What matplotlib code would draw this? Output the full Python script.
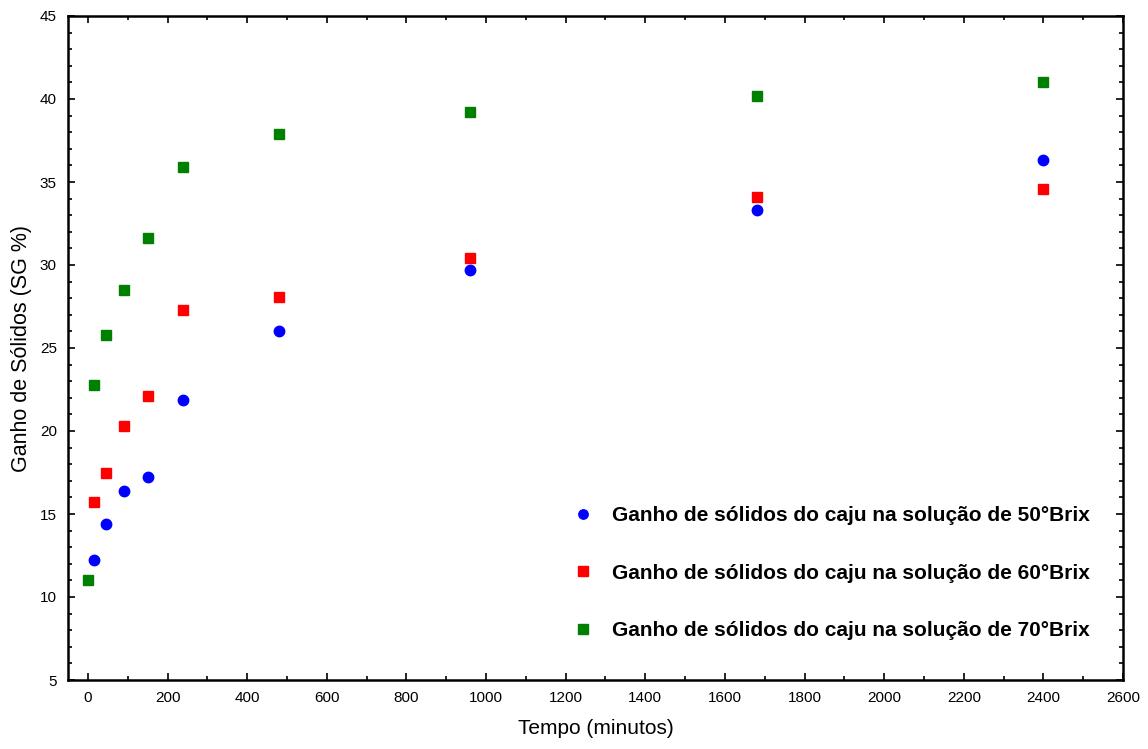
import matplotlib.pyplot as plt
from matplotlib.ticker import MultipleLocator

plt.rcParams['font.family'] = ['Liberation Sans', 'DejaVu Sans']

tempo_50 = [15, 45, 90, 150, 240, 480, 960, 1680, 2400]
sg_50 = [12.2, 14.4, 16.4, 17.25, 21.85, 26.05, 29.7, 33.3, 36.3]

tempo_60 = [15, 45, 90, 150, 240, 480, 960, 1680, 2400]
sg_60 = [15.7, 17.5, 20.3, 22.1, 27.3, 28.1, 30.4, 34.1, 34.6]

tempo_70 = [0, 15, 45, 90, 150, 240, 480, 960, 1680, 2400]
sg_70 = [11.0, 22.8, 25.8, 28.5, 31.6, 35.9, 37.9, 39.2, 40.2, 41.0]

labels = [
    "Ganho de sólidos do caju na solução de 50°Brix",
    "Ganho de sólidos do caju na solução de 60°Brix",
    "Ganho de sólidos do caju na solução de 70°Brix",
]

fig = plt.figure(figsize=(11.48, 7.49), dpi=100)
ax = fig.add_axes([68 / 1148, 1 - 680 / 749, (1123 - 68) / 1148, (680 - 16) / 749])

ax.plot(tempo_50, sg_50, 'o', color='#0000ff', ms=7.5, ls='none', label=labels[0])
ax.plot(tempo_60, sg_60, 's', color='#ff0000', ms=7.5, ls='none', label=labels[1])
ax.plot(tempo_70, sg_70, 's', color='#008000', ms=7.5, ls='none', label=labels[2])

ax.set_xlim(-50, 2600)
ax.set_ylim(5, 45)
ax.xaxis.set_major_locator(MultipleLocator(200))
ax.xaxis.set_minor_locator(MultipleLocator(100))
ax.yaxis.set_major_locator(MultipleLocator(5))
ax.yaxis.set_minor_locator(MultipleLocator(1))
ax.tick_params(which='both', direction='in', top=True, right=True, labelsize=11, width=1.2)
ax.tick_params(which='major', length=5, pad=8)
ax.tick_params(which='minor', length=3)
for s in ax.spines.values():
    s.set_linewidth(1.8)

ax.set_xlabel("Tempo (minutos)", fontsize=15, labelpad=10)
ax.set_ylabel("Ganho de Sólidos (SG %)", fontsize=15.5, labelpad=6)

leg = ax.legend(loc='lower right', bbox_to_anchor=(0.982, 0.038), frameon=False,
                prop={'weight': 'bold', 'size': 15}, labelspacing=1.85,
                handlelength=1.0, handletextpad=0.85, markerscale=0.9,
                borderpad=0.2)

fig.savefig("out.png", dpi=100)
